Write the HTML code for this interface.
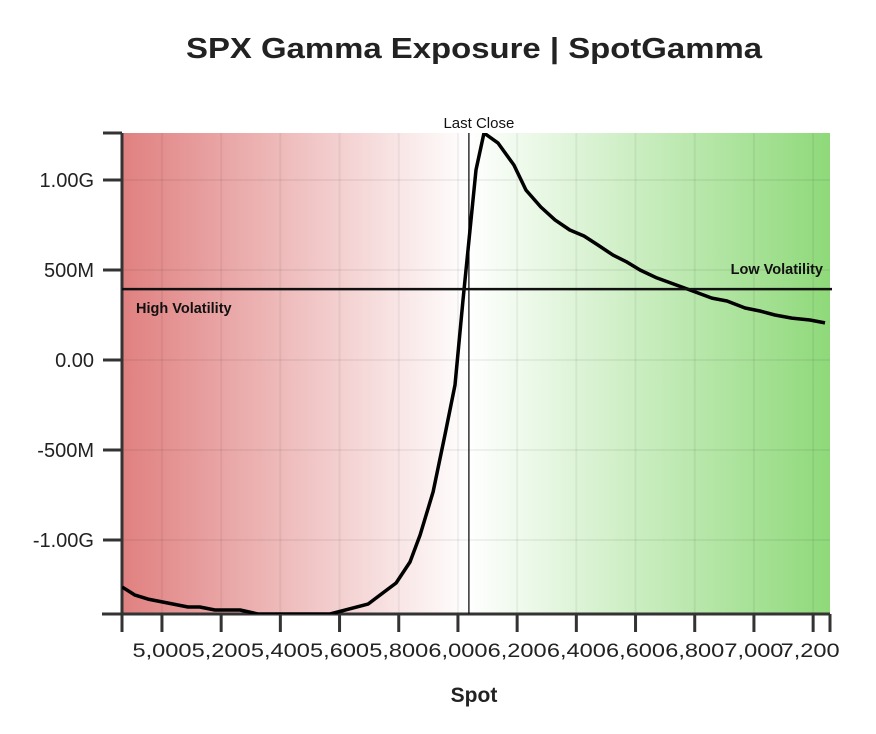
<!DOCTYPE html>
<html><head><meta charset="utf-8"><style>
body{margin:0;background:#fff;width:876px;height:729px;overflow:hidden}
svg text{font-family:"Liberation Sans",sans-serif}
</style></head><body>
<svg id="chart" width="876" height="729">
<defs>
<linearGradient id="bg" x1="0" x2="1" y1="0" y2="0">
<stop offset="0" stop-color="#e08080"/>
<stop offset="0.49" stop-color="#ffffff"/>
<stop offset="1" stop-color="#8fd97a"/>
</linearGradient>
<clipPath id="clip"><rect x="122" y="133" width="708" height="481"/></clipPath>
</defs>
<text x="474" y="58" text-anchor="middle" font-size="29" font-weight="bold" fill="#222" textLength="576" lengthAdjust="spacingAndGlyphs">SPX Gamma Exposure | SpotGamma</text>
<rect x="122" y="133" width="708" height="481" fill="url(#bg)"/>
<g id="grid"></g>
<g id="axes"></g>
<g id="marks" clip-path="url(#clip)"></g>
<g id="labels"></g>
<text x="474" y="702" text-anchor="middle" font-size="21" font-weight="bold" fill="#222">Spot</text>
</svg>
<script>
const spot=[4865,4909,4953,5000,5088,5128,5179,5264,5324,5568,5696,5791,5838,5872,5916,5956,5990,6017,6034,6061,6088,6135,6189,6230,6280,6328,6378,6426,6473,6524,6571,6615,6672,6784,6858,6909,6970,7020,7071,7128,7189,7240];
const gamma=[-1.261,-1.306,-1.328,-1.344,-1.372,-1.372,-1.389,-1.389,-1.411,-1.411,-1.356,-1.239,-1.122,-0.972,-0.733,-0.417,-0.139,0.333,0.611,1.056,1.261,1.206,1.083,0.944,0.85,0.778,0.722,0.689,0.639,0.583,0.544,0.5,0.456,0.389,0.344,0.328,0.289,0.272,0.25,0.233,0.222,0.206];
const xTicks=[5000,5200,5400,5600,5800,6000,6200,6400,6600,6800,7000,7200];
const yTicks=[1,0.5,0,-0.5,-1];
const yTickLabels=["1.00G","500M","0.00","-500M","-1.00G"];
const lastClose=6037;
const flipLevel=0.394;
const X0=122,X1=830,Y0=614,Y1=133;
const xMin=4865,xMax=7257,yMin=-1.411,yMax=1.261;
const x=v=>X0+(v-xMin)/(xMax-xMin)*(X1-X0);
const y=v=>Y0-(v-yMin)/(yMax-yMin)*(Y0-Y1);
const NS="http://www.w3.org/2000/svg";
function mk(tag,attrs,parent,txt){const e=document.createElementNS(NS,tag);for(const k in attrs)e.setAttribute(k,attrs[k]);if(txt!==undefined)e.textContent=txt;document.getElementById(parent).appendChild(e);return e;}
xTicks.forEach((t,i)=>{
 let g=mk('line',{x1:x(t),x2:x(t),y1:Y1,y2:Y0,stroke:'rgba(0,0,0,0.05)','stroke-width':2},'grid');
 
 
 let tk=mk('line',{x1:x(t),x2:x(t),y1:Y0,y2:Y0+18,stroke:'#333','stroke-width':3},'axes');
 
 
 let lb=mk('text',{x:x(t)+(i==xTicks.length-1?-3:0),y:657,'text-anchor':'middle','font-size':19,fill:'#222',textLength:59,lengthAdjust:'spacingAndGlyphs'},'labels',t.toLocaleString('en-US'));
 
 
});
yTicks.forEach((t,i)=>{
 let g=mk('line',{x1:X0,x2:X1,y1:y(t),y2:y(t),stroke:'rgba(0,0,0,0.05)','stroke-width':2},'grid');
 
 
 let tk=mk('line',{x1:X0-19,x2:X0,y1:y(t),y2:y(t),stroke:'#333','stroke-width':3},'axes');
 
 
 let lb=mk('text',{x:94,y:y(t)+7,'text-anchor':'end','font-size':20,fill:'#222'},'labels',yTickLabels[i]);
 
 
});
[[X0-19,Y1,X0,Y1],[X0-19,Y0,X0,Y0],[X0,Y1,X0,Y0+18],[X0-20,Y0,X1,Y0],[X1,Y0,X1,Y0+18]].forEach(a=>{
 let l=mk('line',{x1:a[0],y1:a[1],x2:a[2],y2:a[3],stroke:'#333','stroke-width':3},'axes');
 
 
});
let lc=mk('line',{x1:x(lastClose),x2:x(lastClose),y1:Y1,y2:Y0,stroke:'#111','stroke-width':1.3},'marks');


let lct=mk('text',{x:x(lastClose)+10,y:128,'text-anchor':'middle','font-size':15,fill:'#111'},'labels','Last Close');


let fl=mk('line',{x1:X0,x2:832,y1:y(flipLevel),y2:y(flipLevel),stroke:'#111','stroke-width':2.5},'labels');


let hv=mk('text',{x:136,y:y(flipLevel)+24,'font-size':14.5,'font-weight':'bold',fill:'#111'},'labels','High Volatility');


let lv=mk('text',{x:823,y:y(flipLevel)-15,'text-anchor':'end','font-size':14.5,'font-weight':'bold',fill:'#111'},'labels','Low Volatility');


let d=spot.map((s,i)=>(i?'L':'M')+x(s).toFixed(1)+','+y(gamma[i]).toFixed(1)).join('');
let p=mk('path',{d:d,fill:'none',stroke:'#000','stroke-width':3.5,'stroke-linejoin':'round'},'marks');


</script>
</body></html>
